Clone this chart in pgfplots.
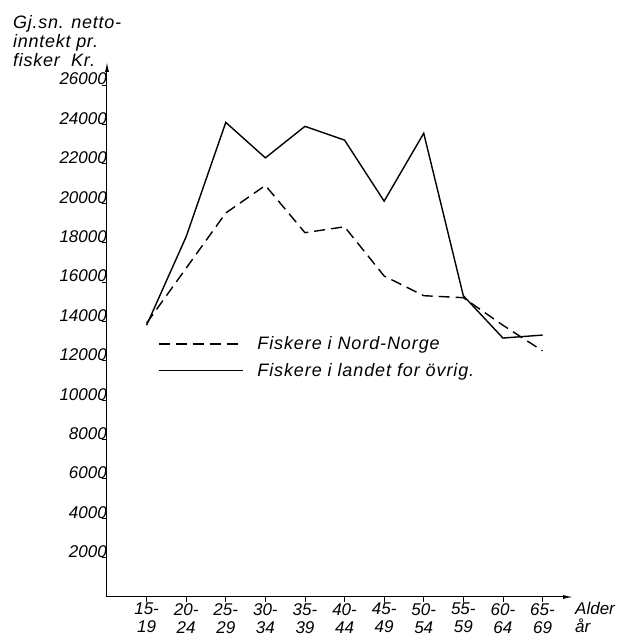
\documentclass[border=0pt]{standalone}
\usepackage{pgfplots}
\pgfplotsset{compat=1.18}
\usepackage{fontspec}
\setmainfont{Liberation Sans}
\usetikzlibrary{arrows.meta}
\begin{document}
\begin{tikzpicture}
\path[use as bounding box] (-107pt,-39pt) rectangle (536pt,597pt);
\begin{axis}[
  at={(0pt,0pt)}, anchor=south west,
  scale only axis, width=466pt, height=535pt,
  xmin=-1, xmax=10.77, ymin=0, ymax=27168,
  axis lines=left,
  axis line style={line width=1pt, -{Latex[length=10pt,width=4pt]}},
  xtick={0,...,10},
  xticklabels={{15-\\19},{20-\\24},{25-\\29},{30-\\34},{35-\\39},{40-\\44},{45-\\49},{50-\\54},{55-\\59},{60-\\64},{65-\\69}},
  ytick={2000,4000,...,26000},
  scaled y ticks=false,
  /pgf/number format/1000 sep={},
  /pgf/number format/assume math mode=true,
  tick style={black, line width=0.8pt},
  tick align=outside, major tick length=5pt,
  ticklabel style={font=\fontsize{17}{18}\selectfont\itshape},
  x tick label style={align=center, inner sep=0pt, yshift=-1pt},
  y tick label style={anchor=base east, inner sep=1pt, xshift=6pt},
  legend style={draw=none, fill=none, at={(0.109,0.448)}, anchor=west,
    font=\fontsize{18}{20}\selectfont\itshape\addfontfeature{LetterSpace=5}, row sep=10pt,
    inner sep=0pt, nodes={inner sep=1pt}},
  legend cell align=left,
  legend image code/.code={\draw[#1] (0pt,0pt) -- (84pt,0pt); \path (97pt,0pt);},
]
\addplot[black, line width=1.4pt, dash pattern=on 11pt off 6pt] coordinates {
 (0,13900) (1,16700) (2,19500) (3,20900) (4,18500) (5,18800)
 (6,16300) (7,15300) (8,15200) (9,13800) (10,12500)};
\addlegendentry{Fiskere i Nord-Norge}
\addplot[black, line width=1.4pt] coordinates {
 (0,13800) (1,18300) (2,24100) (3,22300) (4,23900) (5,23200)
 (6,20100) (7,23550) (8,15300) (9,13150) (10,13300)};
\addlegendentry{Fiskere i landet for övrig.}
\end{axis}
\node[anchor=north west, align=left, inner sep=0pt, font=\fontsize{18}{19}\selectfont\itshape\addfontfeature{LetterSpace=4}] at (-94pt,582pt) {Gj.sn. netto-\\inntekt pr.\\fisker \ Kr.};
\node[anchor=north west, align=left, inner sep=0pt, font=\fontsize{17}{18}\selectfont\itshape] at (468pt,-5pt) {Alder\\år};
\end{tikzpicture}
\end{document}
